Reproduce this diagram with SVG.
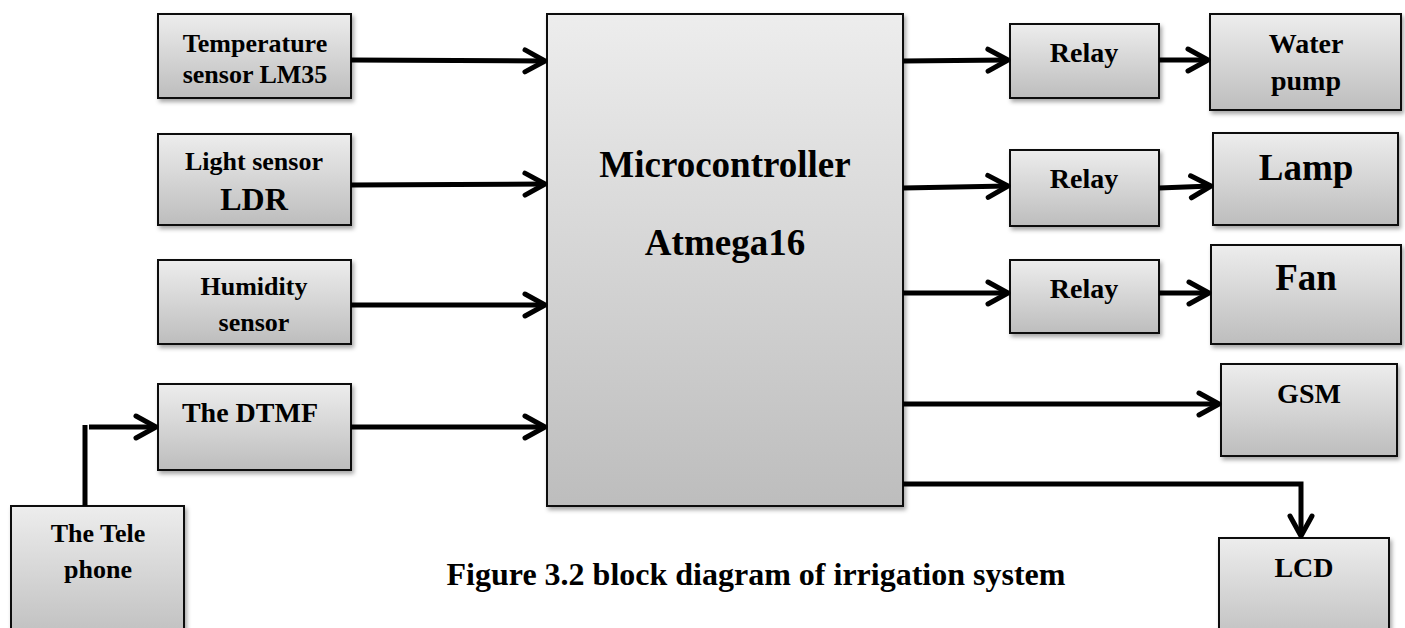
<svg xmlns="http://www.w3.org/2000/svg" width="1405" height="628" viewBox="0 0 1405 628">
<defs>
<linearGradient id="g" x1="0" y1="0" x2="0" y2="1">
<stop offset="0" stop-color="#ededed"/>
<stop offset="1" stop-color="#bdbdbd"/>
</linearGradient>
<filter id="sh" x="-10%" y="-10%" width="130%" height="130%">
<feDropShadow dx="2" dy="3" stdDeviation="2" flood-color="#000" flood-opacity="0.35"/>
</filter>
<marker id="ah" markerUnits="userSpaceOnUse" viewBox="-28 -16 32 32" markerWidth="32" markerHeight="32" refX="0" refY="0" orient="auto">
<path d="M-20,-11 L0,0 L-20,11" fill="none" stroke="#000" stroke-width="5" stroke-linecap="round" stroke-linejoin="round"/>
</marker>
<style>
.box{fill:url(#g);stroke:#111;stroke-width:2;filter:url(#sh)}
.t{font-family:"Liberation Serif","Times New Roman",serif;font-weight:bold;fill:#000;text-anchor:middle}
.s26{font-size:26px}
.s28{font-size:28px}
.s32{font-size:32px}
.s37{font-size:37px}
.c{fill:none;stroke:#000;stroke-width:5}
</style>
</defs>
<rect width="1405" height="628" fill="#fff"/>

<g id="temperature">
<rect class="box" x="158" y="14" width="193" height="84"/>
<text class="t s26" x="255" y="52">Temperature</text>
<text class="t s26" x="255" y="83">sensor LM35</text>
</g>
<g id="light">
<rect class="box" x="158" y="134" width="193" height="91"/>
<text class="t s26" x="254" y="170">Light sensor</text>
<text class="t s32" x="254" y="210">LDR</text>
</g>
<g id="humidity">
<rect class="box" x="158" y="260" width="193" height="84"/>
<text class="t s26" x="254" y="295">Humidity</text>
<text class="t s26" x="254" y="331">sensor</text>
</g>
<g id="dtmf">
<rect class="box" x="158" y="384" width="193" height="86"/>
<text class="t s28" x="250" y="422">The DTMF</text>
</g>
<g id="telephone">
<rect class="box" x="11" y="506" width="173" height="140"/>
<text class="t s26" x="98" y="542">The Tele</text>
<text class="t s26" x="98" y="578">phone</text>
</g>
<g id="micro">
<rect class="box" x="547" y="14" width="356" height="492"/>
<text class="t s37" x="725" y="177">Microcontroller</text>
<text class="t s37" x="725" y="255">Atmega16</text>
</g>
<g id="relay1">
<rect class="box" x="1010" y="24" width="149" height="74"/>
<text class="t s28" x="1084" y="62">Relay</text>
</g>
<g id="relay2">
<rect class="box" x="1010" y="150" width="149" height="76"/>
<text class="t s28" x="1084" y="188">Relay</text>
</g>
<g id="relay3">
<rect class="box" x="1010" y="260" width="149" height="73"/>
<text class="t s28" x="1084" y="298">Relay</text>
</g>
<g id="waterpump">
<rect class="box" x="1210" y="14" width="191" height="96"/>
<text class="t s28" x="1306" y="53">Water</text>
<text class="t s28" x="1306" y="90">pump</text>
</g>
<g id="lamp">
<rect class="box" x="1213" y="133" width="185" height="92"/>
<text class="t s37" x="1306" y="180">Lamp</text>
</g>
<g id="fan">
<rect class="box" x="1211" y="245" width="190" height="99"/>
<text class="t s37" x="1306" y="290">Fan</text>
</g>
<g id="gsm">
<rect class="box" x="1221" y="364" width="176" height="92"/>
<text class="t s28" x="1309" y="403">GSM</text>
</g>
<g id="lcd">
<rect class="box" x="1219" y="538" width="170" height="110"/>
<text class="t s28" x="1304" y="577">LCD</text>
</g>

<g id="connectors">
<line class="c" x1="351" y1="60" x2="545" y2="61" marker-end="url(#ah)"/>
<line class="c" x1="351" y1="185" x2="545" y2="184" marker-end="url(#ah)"/>
<line class="c" x1="351" y1="305" x2="545" y2="305" marker-end="url(#ah)"/>
<line class="c" x1="351" y1="427" x2="545" y2="427" marker-end="url(#ah)"/>
<line class="c" x1="85" y1="506" x2="85" y2="425"/>
<line class="c" x1="89" y1="427" x2="156" y2="427" marker-end="url(#ah)"/>
<line class="c" x1="903" y1="61" x2="1008" y2="60" marker-end="url(#ah)"/>
<line class="c" x1="1159" y1="60" x2="1208" y2="60" marker-end="url(#ah)"/>
<line class="c" x1="903" y1="188" x2="1008" y2="186" marker-end="url(#ah)"/>
<line class="c" x1="1159" y1="188" x2="1211" y2="186" marker-end="url(#ah)"/>
<line class="c" x1="903" y1="293" x2="1008" y2="293" marker-end="url(#ah)"/>
<line class="c" x1="1159" y1="293" x2="1209" y2="293" marker-end="url(#ah)"/>
<line class="c" x1="903" y1="404" x2="1219" y2="404" marker-end="url(#ah)"/>
<path class="c" d="M903,484 H1301 V536" marker-end="url(#ah)"/>
</g>

<text class="t s32" x="756" y="585">Figure 3.2 block diagram of irrigation system</text>
</svg>
